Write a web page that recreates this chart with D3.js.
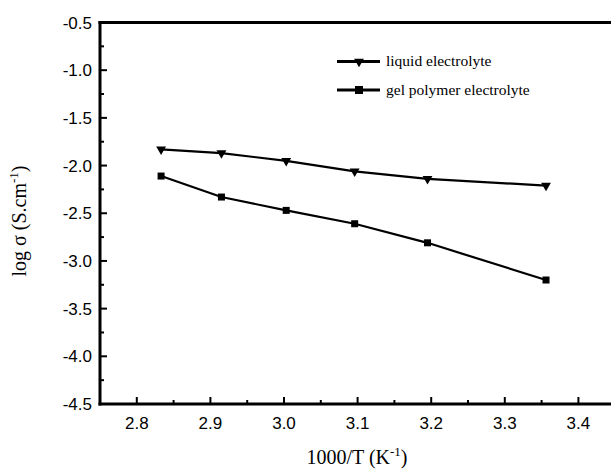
<!DOCTYPE html>
<html>
<head>
<meta charset="utf-8">
<script src="https://cdn.jsdelivr.net/npm/d3@7"></script>
<style>
  body { margin: 0; background: #fff; }
  svg { display: block; }
</style>
</head>
<body>
<div id="main"></div>
<script>
const ctx = { w: 611, h: 469 };

// data
const invT = [2.833, 2.915, 3.003, 3.096, 3.195, 3.356];
const liquidLog = [-1.83, -1.87, -1.95, -2.06, -2.14, -2.21];
const gelLog = [-2.11, -2.33, -2.47, -2.61, -2.81, -3.2];
const seriesNames = ["liquid electrolyte", "gel polymer electrolyte"];
const xTicks = [2.8, 2.9, 3.0, 3.1, 3.2, 3.3, 3.4];
const yTicks = [-0.5, -1.0, -1.5, -2.0, -2.5, -3.0, -3.5, -4.0, -4.5];

const svg = d3.select("#main").append("svg")
    .attr("width", ctx.w)
    .attr("height", ctx.h);

const x = d3.scaleLinear().domain([2.75, 3.45]).range([100, 615.2]);
const y = d3.scaleLinear().domain([-4.5, -0.5]).range([404, 22.5]);

// frame lines (left, bottom, top; right side runs off the canvas)
const frame = svg.append("g").attr("stroke", "#000").attr("stroke-width", 3);
frame.append("line").attr("x1", x(2.75)).attr("x2", x(2.75)).attr("y1", y(-0.5) - 1.5).attr("y2", y(-4.5) + 1.5);
frame.append("line").attr("x1", x(2.75) - 1.5).attr("x2", ctx.w + 10).attr("y1", y(-4.5)).attr("y2", y(-4.5));
frame.append("line").attr("x1", x(2.75) - 1.5).attr("x2", ctx.w + 10).attr("y1", y(-0.5)).attr("y2", y(-0.5));

// ticks pointing inwards
const ticks = svg.append("g").attr("stroke", "#000").attr("stroke-width", 2);
const xMinor = d3.range(2.85, 3.44, 0.1);
ticks.selectAll(".xmaj").data(xTicks).enter().append("line")
    .attr("x1", d => x(d)).attr("x2", d => x(d))
    .attr("y1", y(-4.5)).attr("y2", y(-4.5) - 7);
ticks.selectAll(".xmin").data(xMinor).enter().append("line")
    .attr("x1", d => x(d)).attr("x2", d => x(d))
    .attr("y1", y(-4.5)).attr("y2", y(-4.5) - 4);
const yMinor = d3.range(-0.75, -4.4, -0.5);
ticks.selectAll(".ymaj").data(yTicks).enter().append("line")
    .attr("x1", x(2.75)).attr("x2", x(2.75) + 7)
    .attr("y1", d => y(d)).attr("y2", d => y(d));
ticks.selectAll(".ymin").data(yMinor).enter().append("line")
    .attr("x1", x(2.75)).attr("x2", x(2.75) + 4)
    .attr("y1", d => y(d)).attr("y2", d => y(d));

// tick labels
svg.append("g").selectAll("text").data(xTicks).enter().append("text")
    .attr("x", d => x(d)).attr("y", 429)
    .attr("text-anchor", "middle")
    .style("font-family", "Liberation Sans, Arial, sans-serif")
    .style("font-size", "17px")
    .text(d => d.toFixed(1));
svg.append("g").selectAll("text").data(yTicks).enter().append("text")
    .attr("x", 92).attr("y", d => y(d)).attr("dy", "0.36em")
    .attr("text-anchor", "end")
    .style("font-family", "Liberation Sans, Arial, sans-serif")
    .style("font-size", "17px")
    .text(d => d.toFixed(1));

// axis titles
const xt = svg.append("text")
    .attr("x", 357).attr("y", 464)
    .attr("text-anchor", "middle")
    .style("font-family", "Liberation Serif, Times New Roman, serif")
    .style("font-size", "20px");
xt.append("tspan").text("1000/T (K");
xt.append("tspan").attr("dy", -8).style("font-size", "13px").text("-1");
xt.append("tspan").attr("dy", 8).text(")");

const yt = svg.append("text")
    .attr("transform", "translate(26,221) rotate(-90)")
    .attr("text-anchor", "middle")
    .style("font-family", "Liberation Serif, Times New Roman, serif")
    .style("font-size", "20px");
yt.append("tspan").text("log \u03c3 (S.cm");
yt.append("tspan").attr("dy", -8).style("font-size", "13px").text("-1");
yt.append("tspan").attr("dy", 8).text(")");

// series
const line = d3.line().x(d => x(d[0])).y(d => y(d[1]));
const liquid = invT.map((t, i) => [t, liquidLog[i]]);
const gel = invT.map((t, i) => [t, gelLog[i]]);

const tri = d3.symbol().type(d3.symbolTriangle).size(42);

svg.append("path").datum(liquid).attr("d", line)
    .attr("fill", "none").attr("stroke", "#000").attr("stroke-width", 2.2);
svg.append("path").datum(gel).attr("d", line)
    .attr("fill", "none").attr("stroke", "#000").attr("stroke-width", 2.2);

svg.append("g").selectAll("path").data(liquid).enter().append("path")
    .attr("d", tri)
    .attr("transform", d => `translate(${x(d[0])},${y(d[1])}) rotate(180)`)
    .attr("fill", "#000");
svg.append("g").selectAll("rect").data(gel).enter().append("rect")
    .attr("x", d => x(d[0]) - 3.5).attr("y", d => y(d[1]) - 3.5)
    .attr("width", 7).attr("height", 7)
    .attr("fill", "#000");

// legend
const legend = svg.append("g");
const legY = [61.5, 90];
legend.selectAll("line").data(legY).enter().append("line")
    .attr("x1", 337).attr("x2", 380)
    .attr("y1", d => d).attr("y2", d => d)
    .attr("stroke", "#000").attr("stroke-width", 3);
legend.append("path").attr("d", tri)
    .attr("transform", `translate(359,${legY[0]}) rotate(180)`);
legend.append("rect").attr("x", 355).attr("y", legY[1] - 4).attr("width", 8).attr("height", 8);
legend.selectAll("text").data(seriesNames).enter().append("text")
    .attr("x", 386).attr("y", (d, i) => legY[i]).attr("dy", "0.32em")
    .style("font-family", "Liberation Serif, Times New Roman, serif")
    .style("font-size", "15.5px")
    .text(d => d);
</script>
</body>
</html>
